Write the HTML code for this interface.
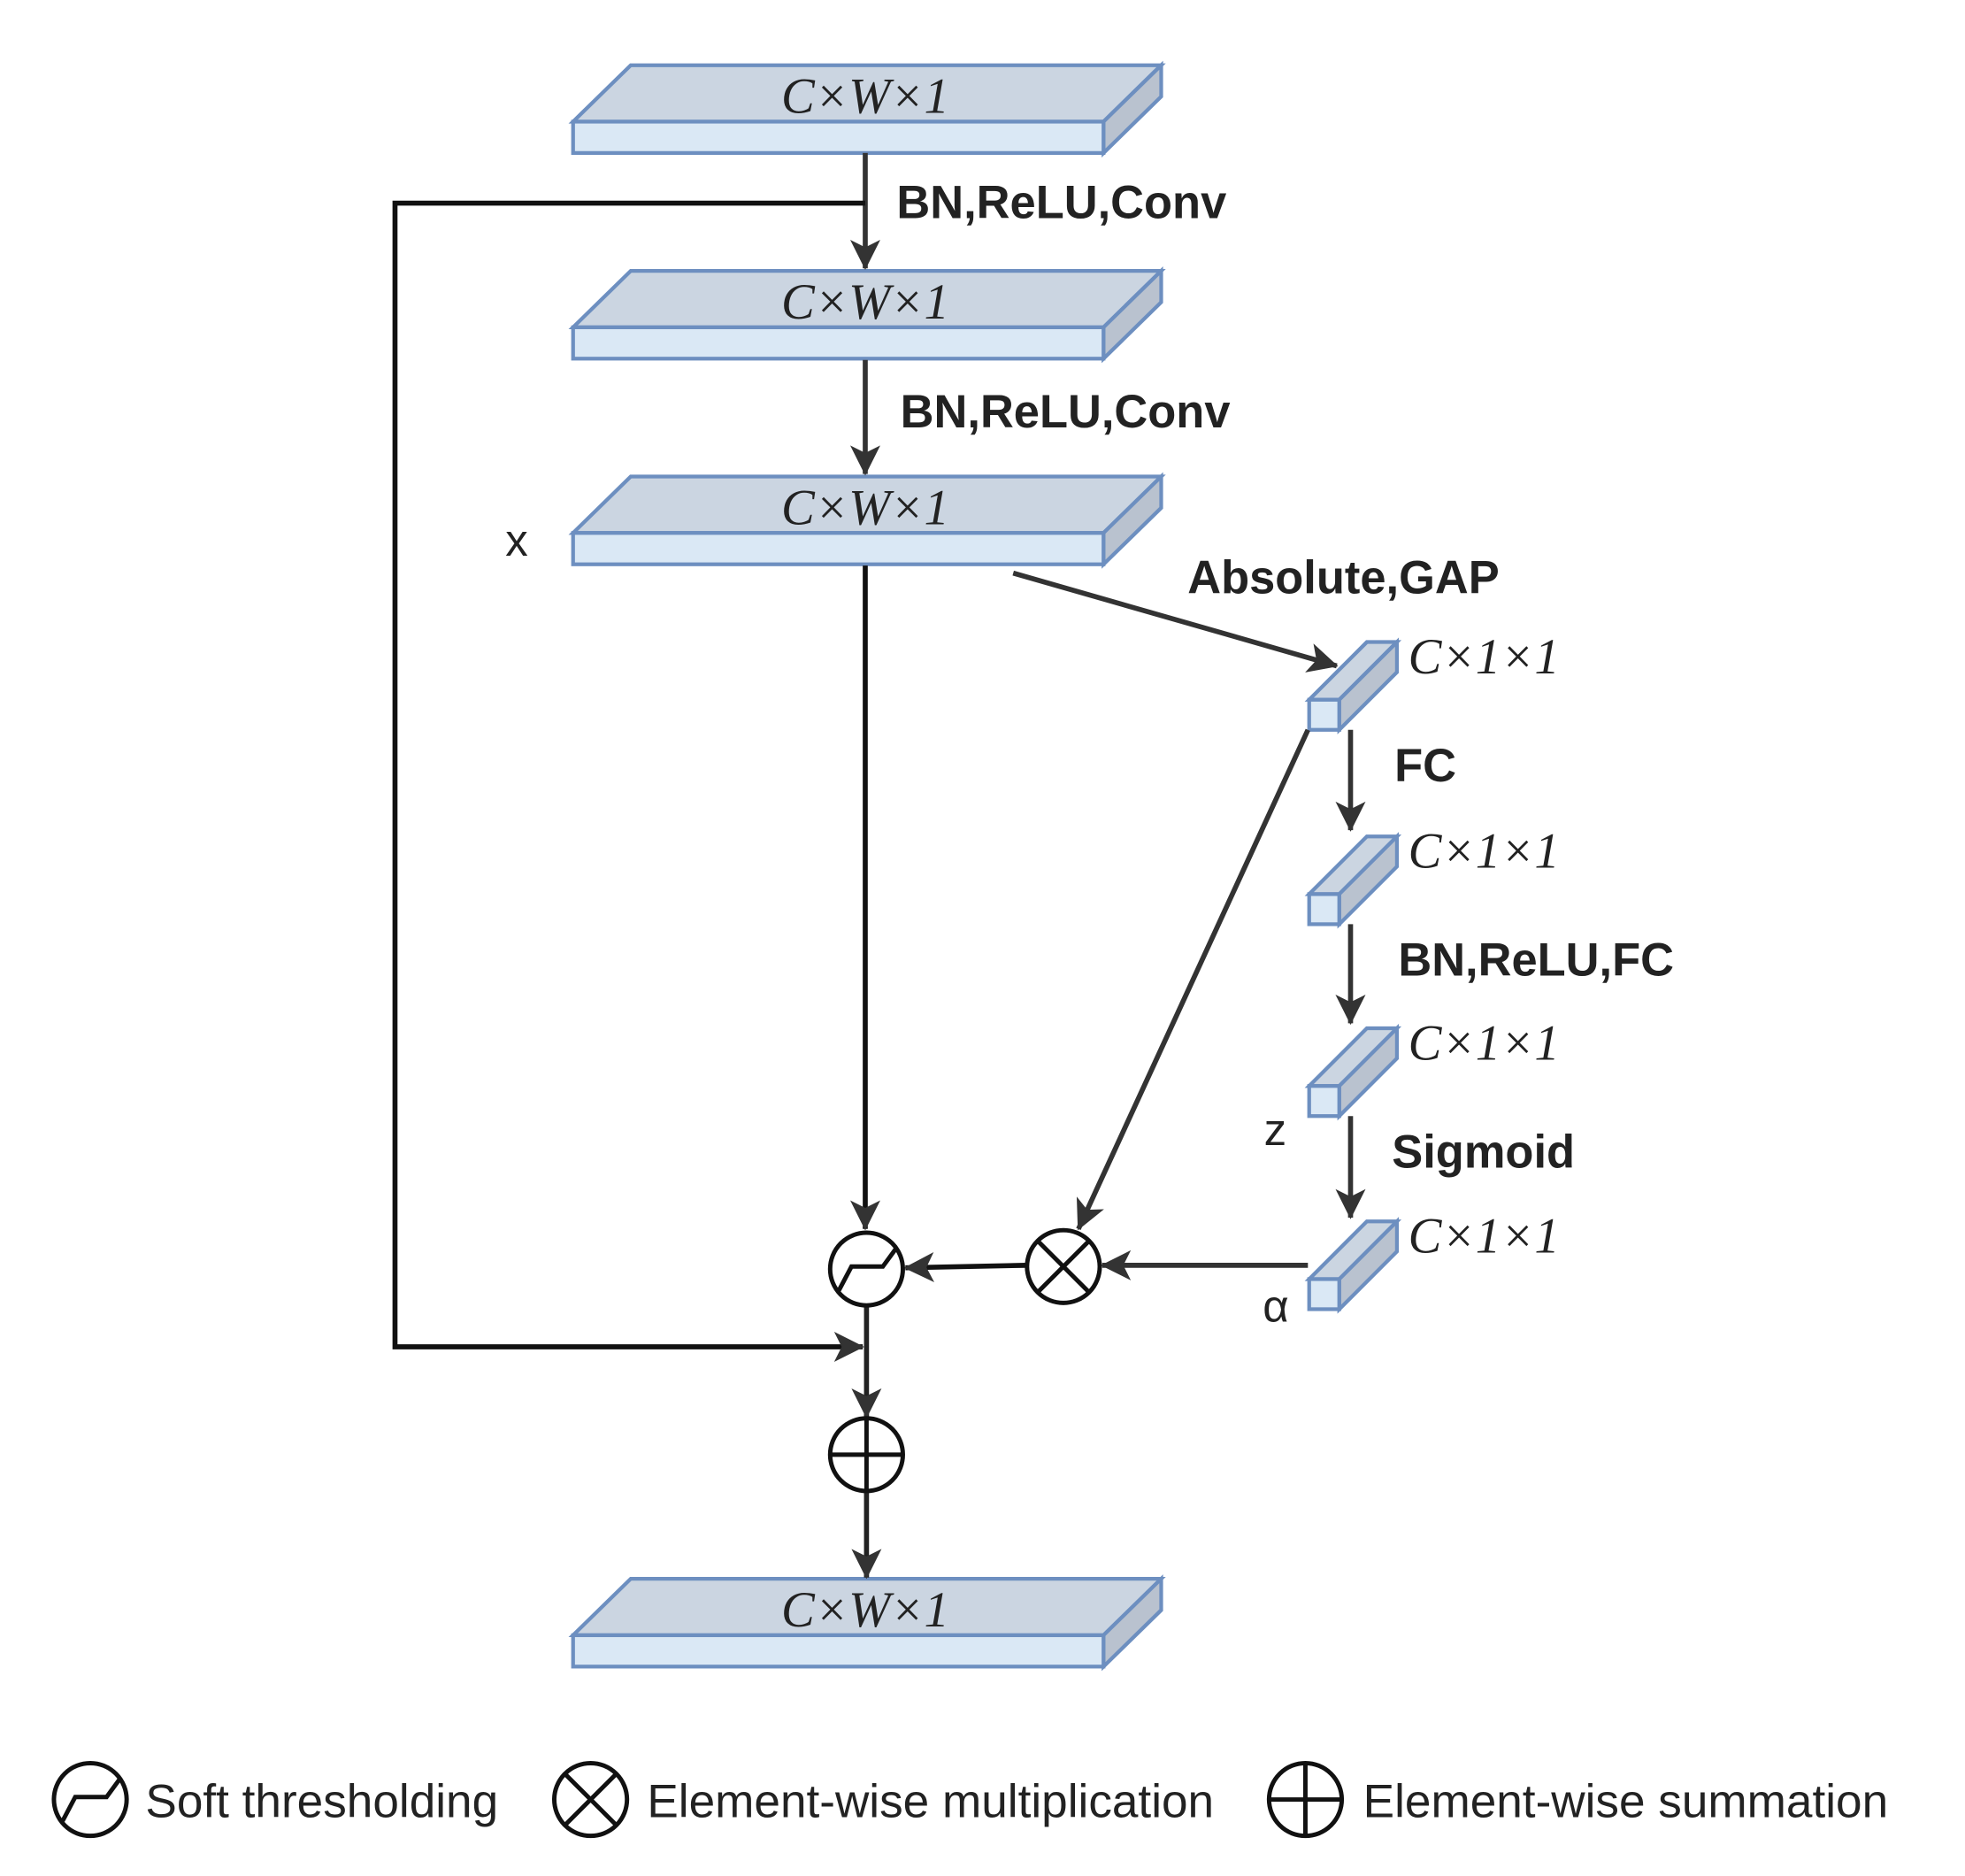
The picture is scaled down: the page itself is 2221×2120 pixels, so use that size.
<!DOCTYPE html>
<html><head><meta charset="utf-8"><style>html,body{margin:0;padding:0;background:#fff}svg{display:block}</style></head>
<body>
<svg width="2221" height="2120" viewBox="0 0 1567 1496" preserveAspectRatio="none" xmlns="http://www.w3.org/2000/svg">
<defs>
<marker id="ah" viewBox="0 0 20 20" refX="19" refY="10" markerWidth="26" markerHeight="24" markerUnits="userSpaceOnUse" orient="auto">
<path d="M0,0 L20,10 L0,20 L5,10 Z" fill="#333"/>
</marker>
<g id="slab">
<polygon points="457,97 503,52 926,52 880,97" fill="#cbd5e1" stroke="#6d8fc0" stroke-width="3"/>
<polygon points="880,97 926,52 926,77 880,122" fill="#b9c2cf" stroke="#6d8fc0" stroke-width="3"/>
<rect x="457" y="97" width="423" height="25" fill="#dae8f5" stroke="#6d8fc0" stroke-width="3"/>
<text x="690" y="90" text-anchor="middle" font-family="Liberation Serif, serif" font-style="italic" font-size="40" fill="#222">C×W×1</text>
</g>
<g id="bar">
<polygon points="1044,558 1090,512 1114,512 1068,558" fill="#cbd5e1" stroke="#6d8fc0" stroke-width="3"/>
<polygon points="1068,558 1114,512 1114,536 1068,582" fill="#b9c2cf" stroke="#6d8fc0" stroke-width="3"/>
<rect x="1044" y="558" width="24" height="24" fill="#dae8f5" stroke="#6d8fc0" stroke-width="3"/>
<text x="1123" y="537" font-family="Liberation Serif, serif" font-style="italic" font-size="40" fill="#222">C×1×1</text>
</g>
</defs>
<use href="#slab"/>
<use href="#slab" y="164"/>
<use href="#slab" y="328"/>
<use href="#slab" y="1207"/>
<use href="#bar"/>
<use href="#bar" y="155"/>
<use href="#bar" y="308"/>
<use href="#bar" y="462"/>

<g stroke="#333" stroke-width="4" fill="none">
<line x1="690" y1="122" x2="690" y2="214" marker-end="url(#ah)"/>
<line x1="690" y1="287" x2="690" y2="378" marker-end="url(#ah)"/>
<line x1="690" y1="451" x2="690" y2="980" marker-end="url(#ah)" stroke="#111"/>
<line x1="808" y1="457" x2="1066" y2="531" marker-end="url(#ah)"/>
<line x1="1077" y1="582" x2="1077" y2="662" marker-end="url(#ah)"/>
<line x1="1077" y1="737" x2="1077" y2="816" marker-end="url(#ah)"/>
<line x1="1077" y1="890" x2="1077" y2="971" marker-end="url(#ah)"/>
<line x1="1043" y1="582" x2="860" y2="980" marker-end="url(#ah)"/>
<line x1="1043" y1="1009" x2="879" y2="1009" marker-end="url(#ah)"/>
<line x1="818" y1="1009" x2="722" y2="1011" marker-end="url(#ah)" stroke="#111"/>
<line x1="691" y1="1041" x2="691" y2="1130" marker-end="url(#ah)" stroke="#222"/>
<line x1="691" y1="1189" x2="691" y2="1258" marker-end="url(#ah)" stroke="#222"/>
<polyline points="690,162 315,162 315,1074 688,1074" stroke="#111" marker-end="url(#ah)"/>
</g>

<g stroke="#111" stroke-width="3.5" fill="#fff">
<circle cx="691" cy="1012" r="29"/>
<path d="M669,1029 L679,1010 L704,1010 L715,995" fill="none"/>
<circle cx="848" cy="1010" r="29"/>
<path d="M828,990 L868,1030 M868,990 L828,1030" fill="none"/>
<circle cx="691" cy="1160" r="29"/>
<path d="M662,1160 L720,1160 M691,1131 L691,1189" fill="none"/>
<circle cx="72" cy="1435" r="29"/>
<path d="M50,1452 L60,1433 L85,1433 L96,1418" fill="none"/>
<circle cx="471" cy="1435" r="29"/>
<path d="M451,1415 L491,1455 M491,1415 L451,1455" fill="none"/>
<circle cx="1041" cy="1435" r="29"/>
<path d="M1012,1435 L1070,1435 M1041,1406 L1041,1464" fill="none"/>
</g>

<g font-family="Liberation Sans, sans-serif" font-weight="bold" font-size="37" fill="#222">
<text x="715" y="174">BN,ReLU,Conv</text>
<text x="718" y="341">BN,ReLU,Conv</text>
<text x="947" y="473">Absolute,GAP</text>
<text x="1112" y="623">FC</text>
<text x="1115" y="778">BN,ReLU,FC</text>
<text x="1110" y="931">Sigmoid</text>
</g>
<g font-family="Liberation Sans, sans-serif" font-size="36" fill="#222">
<text x="403" y="443">x</text>
<text x="1008" y="913">z</text>
<text x="1007" y="1054">α</text>
<text x="116" y="1449" font-size="37.5">Soft thresholding</text>
<text x="516" y="1449" font-size="37.5">Element-wise multiplication</text>
<text x="1087" y="1449" font-size="37.5">Element-wise summation</text>
</g>
</svg>
</body></html>
